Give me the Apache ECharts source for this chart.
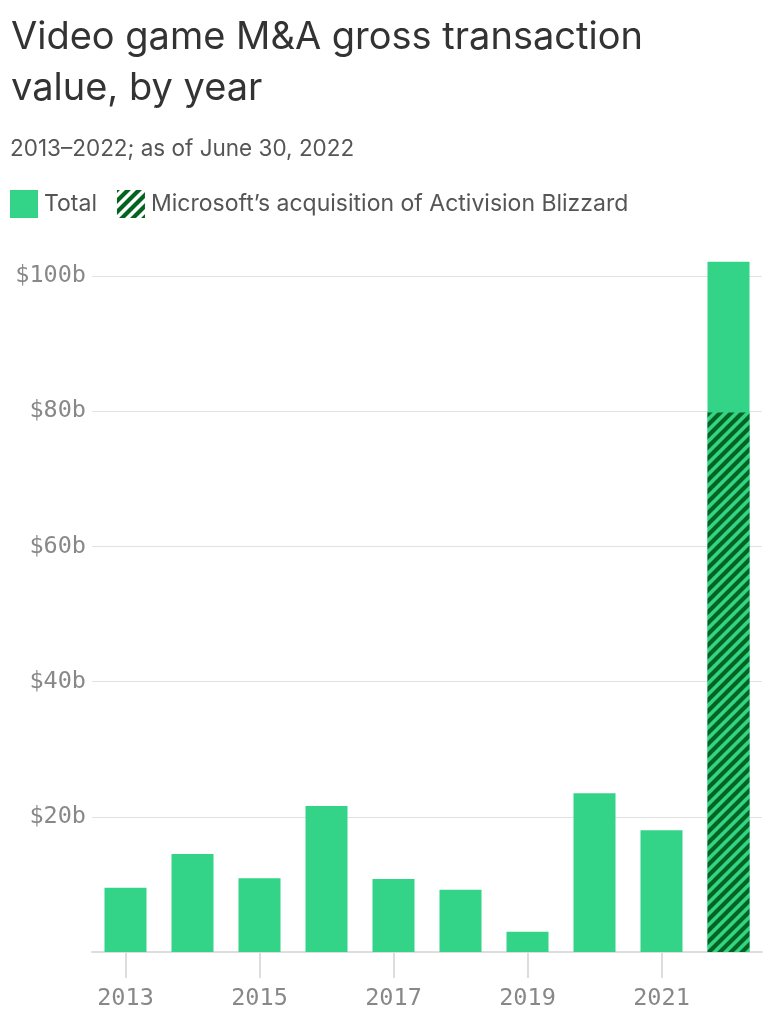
<!DOCTYPE html>
<html>
<head>
<meta charset="utf-8">
<script src="https://cdn.jsdelivr.net/npm/echarts@6/dist/echarts.min.js"></script>
<style>
html,body{margin:0;padding:0;background:#fff;}
#chart{width:770px;height:1020px;}
</style>
</head>
<body>
<div id="chart"></div>
<script>
const years = ['2013','2014','2015','2016','2017','2018','2019','2020','2021','2022'];
const totalValues = [9.5, 14.5, 10.9, 21.6, 10.8, 9.2, 3.0, 23.5, 18.0, 102.1];
const microsoftValues = [null, null, null, null, null, null, null, null, null, 79.8];
const yTicks = [0, 20, 40, 60, 80, 100];

const GREEN = '#33d388';
const DARK = '#036420';

function makeHatch(bg, fg, size, lw) {
  const c = document.createElement('canvas');
  c.width = size; c.height = size;
  const ctx = c.getContext('2d');
  ctx.fillStyle = bg; ctx.fillRect(0, 0, size, size);
  ctx.strokeStyle = fg; ctx.lineWidth = lw; ctx.lineCap = 'square';
  ctx.beginPath();
  ctx.moveTo(0, size); ctx.lineTo(size, 0);
  ctx.moveTo(-size, size); ctx.lineTo(size, -size);
  ctx.moveTo(0, 2 * size); ctx.lineTo(2 * size, 0);
  ctx.stroke();
  return c;
}
const barHatch = { image: makeHatch(GREEN, DARK, 11, 4.2), repeat: 'repeat' };
const legendHatch = { image: makeHatch('#ffffff', DARK, 11, 4.2), repeat: 'repeat' };

const chart = echarts.init(document.getElementById('chart'), null, { renderer: 'canvas' });
chart.setOption({
  animation: false,
  backgroundColor: '#ffffff',
  title: [
    {
      text: 'Video game M&A gross transaction\nvalue, by year',
      left: 11, top: 12, padding: 0,
      textStyle: { fontFamily: 'Inter', fontSize: 38, fontWeight: 'normal', color: '#333333', lineHeight: 51 }
    },
    {
      text: '2013–2022; as of June 30, 2022',
      left: 10, top: 137, padding: 0,
      textStyle: { fontFamily: 'Inter', fontSize: 22.5, fontWeight: 'normal', color: '#555555', lineHeight: 24 }
    }
  ],
  legend: {
    left: 10, top: 190, padding: 0,
    icon: 'rect',
    itemWidth: 28, itemHeight: 28,
    itemGap: 20,
    textStyle: { fontFamily: 'Inter', fontSize: 23, color: '#555555', padding: [0, 0, 0, 1] },
    data: [
      { name: 'Total', itemStyle: { color: GREEN } },
      { name: 'Microsoft’s acquisition of Activision Blizzard', itemStyle: { color: legendHatch } }
    ]
  },
  grid: { left: 92, right: 8, top: 276, bottom: 68 },
  xAxis: {
    type: 'category',
    data: years,
    axisLine: { lineStyle: { color: '#dddddd', width: 2 } },
    axisTick: { show: true, alignWithLabel: true, length: 26, lineStyle: { color: '#dddddd', width: 2 } },
    axisLabel: { interval: 1, margin: 35, fontFamily: 'DejaVu Sans Mono', fontSize: 23.5, color: '#888888' }
  },
  yAxis: {
    type: 'value',
    min: 0, max: 100, interval: 20,
    axisLine: { show: false },
    axisTick: { show: false },
    splitLine: { lineStyle: { color: '#e2e2e2', width: 1 } },
    axisLabel: {
      showMinLabel: false,
      margin: 6,
      fontFamily: 'DejaVu Sans Mono', fontSize: 23.5, color: '#888888',
      formatter: v => yTicks.includes(v) ? '$' + v + 'b' : ''
    }
  },
  series: [
    {
      name: 'Total',
      type: 'bar',
      data: totalValues,
      barWidth: 42,
      clip: false,
      itemStyle: { color: GREEN }
    },
    {
      name: 'Microsoft’s acquisition of Activision Blizzard',
      type: 'bar',
      data: microsoftValues,
      barWidth: 42,
      barGap: '-100%',
      clip: false,
      itemStyle: { color: barHatch }
    }
  ]
});
</script>
</body>
</html>
